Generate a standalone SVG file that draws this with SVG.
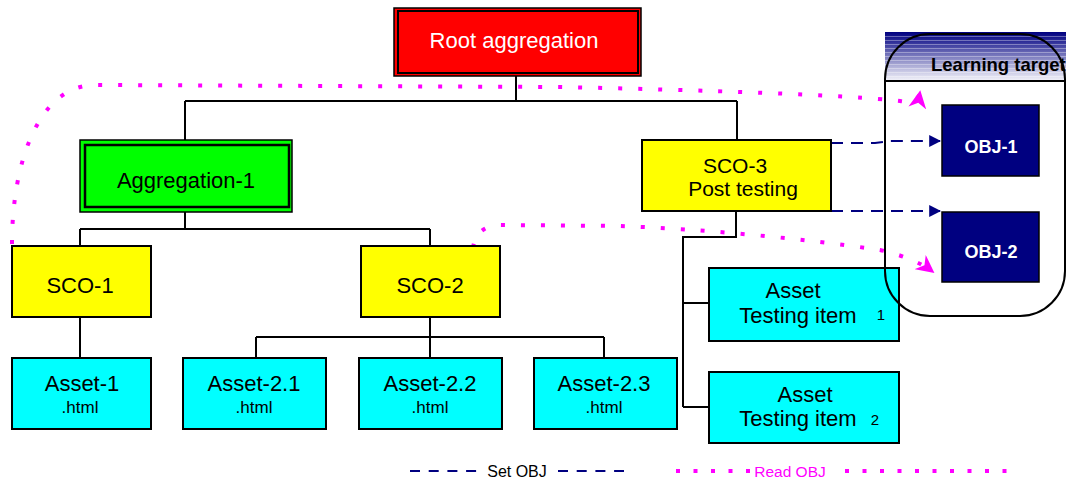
<svg xmlns="http://www.w3.org/2000/svg" width="1066" height="482" viewBox="0 0 1066 482">
<style>
text{font-family:"Liberation Sans",Arial,sans-serif;text-anchor:middle;}
.lbl{font-size:22px;fill:#000;}
.sub{font-size:17px;fill:#000;}
.box{stroke:#000;stroke-width:2;}
.yel{fill:#ffff00;}
.cyan{fill:#00ffff;}
.tree{fill:none;stroke:#000;stroke-width:2;}
.setobj{fill:none;stroke:#000080;stroke-width:2;stroke-dasharray:12 8;}
.readobj{fill:none;stroke:#ff00ff;stroke-width:4;stroke-dasharray:4 16;}
.obj{fill:#000080;stroke:#000;stroke-width:1.5;}
.objt{font-size:18px;font-weight:bold;fill:#fff;}
</style>
<defs>
<marker id="navyArrow" viewBox="0 0 10 10" refX="9" refY="5" markerWidth="12" markerHeight="12" markerUnits="userSpaceOnUse" orient="auto">
<path d="M0,0 L10,5 L0,10 z" fill="#000080"/>
</marker>
<marker id="pinkArrow" viewBox="0 0 10 10" refX="9" refY="5" markerWidth="18" markerHeight="18" markerUnits="userSpaceOnUse" orient="auto">
<path d="M0,0 L10,5 L0,10 L3,5 z" fill="#ff00ff"/>
</marker>
<linearGradient id="hdr" x1="0" y1="0" x2="0" y2="1">
<stop offset="0" stop-color="#000080"/>
<stop offset="0.12" stop-color="#1a1a8e"/>
<stop offset="0.45" stop-color="#7070b8"/>
<stop offset="0.8" stop-color="#c8c8e4"/>
<stop offset="1" stop-color="#f4f4fa"/>
</linearGradient>
<pattern id="stripes" width="8" height="4" patternUnits="userSpaceOnUse">
<rect x="0" y="0" width="8" height="1" fill="#ffffff" fill-opacity="0.35"/>
</pattern>
</defs>

<g id="learning-target-header">
<rect x="885" y="32" width="181" height="49" fill="url(#hdr)"/>
<rect x="885" y="36" width="181" height="45" fill="url(#stripes)"/>
</g>

<g id="connectors">
<path class="tree" d="M516,76 V101 M185,101 H737 M185,101 V140 M737,101 V140"/>
<path class="tree" d="M185,212 V229 M80,229 H430 M80,229 V246 M430,229 V246"/>
<path class="tree" d="M80,317 V358"/>
<path class="tree" d="M430,317 V337 M256,337 H604 M256,337 V358 M430,337 V358 M604,337 V358"/>
<path class="tree" d="M736,211 V237 H683 V407 M683,303 H709 M683,407 H709"/>
<path class="setobj" d="M831,143 H875 L890,141 H940" marker-end="url(#navyArrow)"/>
<path class="setobj" d="M831,211 H940" marker-end="url(#navyArrow)"/>
<path class="readobj" d="M12,244 C12,160 40,85 95,85 L560,87 C700,90 850,95 900,101 Q918,104 920,92" marker-end="url(#pinkArrow)"/>
<path class="readobj" d="M473,248 Q476,226 500,225 L620,226 C700,229 800,238 880,250 Q915,258 933,272" marker-end="url(#pinkArrow)"/>
</g>

<g id="root-aggregation">
<rect x="394" y="8" width="247" height="68" fill="#ff0000" stroke="#000" stroke-width="1.5"/>
<rect x="398" y="11" width="240" height="62" fill="none" stroke="#000" stroke-width="2"/>
<text x="514" y="48" style="font-size:22px;fill:#fff">Root aggregation</text>
</g>

<g id="aggregation-1">
<rect x="80" y="140" width="212" height="72" fill="#00ff00" stroke="#000" stroke-width="1.5"/>
<rect x="85" y="145" width="204" height="62" fill="none" stroke="#000" stroke-width="2.5"/>
<text class="lbl" x="186" y="188">Aggregation-1</text>
</g>

<g id="sco-1">
<rect class="box yel" x="12" y="246" width="139" height="71"/>
<text class="lbl" x="80" y="293">SCO-1</text>
</g>

<g id="sco-2">
<rect class="box yel" x="361" y="246" width="139" height="71"/>
<text class="lbl" x="430" y="293">SCO-2</text>
</g>

<g id="sco-3">
<rect class="box yel" x="642" y="140" width="189" height="71"/>
<text x="735" y="173" style="font-size:21px;fill:#000">SCO-3</text>
<text x="743" y="196" style="font-size:21px;fill:#000">Post testing</text>
</g>

<g id="asset-1">
<rect class="box cyan" x="12" y="358" width="139" height="71"/>
<text class="lbl" x="82" y="391">Asset-1</text>
<text class="sub" x="80" y="413">.html</text>
</g>

<g id="asset-2-1">
<rect class="box cyan" x="183" y="358" width="143" height="71"/>
<text class="lbl" x="254" y="391">Asset-2.1</text>
<text class="sub" x="254" y="413">.html</text>
</g>

<g id="asset-2-2">
<rect class="box cyan" x="359" y="358" width="143" height="71"/>
<text class="lbl" x="430" y="391">Asset-2.2</text>
<text class="sub" x="430" y="413">.html</text>
</g>

<g id="asset-2-3">
<rect class="box cyan" x="534" y="358" width="143" height="71"/>
<text class="lbl" x="604" y="391">Asset-2.3</text>
<text class="sub" x="604" y="413">.html</text>
</g>

<g id="asset-testing-1">
<rect class="box cyan" x="709" y="268" width="190" height="73"/>
<text class="lbl" x="793" y="298">Asset</text>
<text class="lbl" x="798" y="323">Testing item</text>
<text x="881" y="320" style="font-size:15px;fill:#000">1</text>
</g>

<g id="asset-testing-2">
<rect class="box cyan" x="709" y="372" width="190" height="71"/>
<text class="lbl" x="805" y="402">Asset</text>
<text class="lbl" x="798" y="426">Testing item</text>
<text x="875" y="425" style="font-size:15px;fill:#000">2</text>
</g>

<g id="learning-target">
<rect x="885" y="34" width="180" height="282" rx="45" ry="45" fill="none" stroke="#000" stroke-width="2"/>
<line x1="885" y1="81" x2="1066" y2="81" stroke="#000" stroke-width="2"/>
<text x="931" y="71" style="font-size:18.5px;font-weight:bold;fill:#000;text-anchor:start">Learning target</text>
</g>

<g id="obj-1">
<rect class="obj" x="942" y="105" width="97" height="71"/>
<text class="objt" x="991" y="153">OBJ-1</text>
</g>

<g id="obj-2">
<rect class="obj" x="942" y="212" width="97" height="70"/>
<text class="objt" x="991" y="258">OBJ-2</text>
</g>

<g id="legend">
<line class="setobj" x1="410" y1="471" x2="480" y2="471" style="stroke-dasharray:10 8.7"/>
<text x="517" y="477" style="font-size:16px;fill:#000">Set OBJ</text>
<line class="setobj" x1="558" y1="471" x2="624" y2="471" style="stroke-dasharray:10 8.7"/>
<line class="readobj" x1="676" y1="471" x2="750" y2="471" style="stroke-dasharray:4 13.5"/>
<text x="790" y="477" style="font-size:15.5px;fill:#ff00ff">Read OBJ</text>
<line class="readobj" x1="845" y1="471" x2="1010" y2="471" style="stroke-dasharray:4 13.5"/>
</g>
</svg>
